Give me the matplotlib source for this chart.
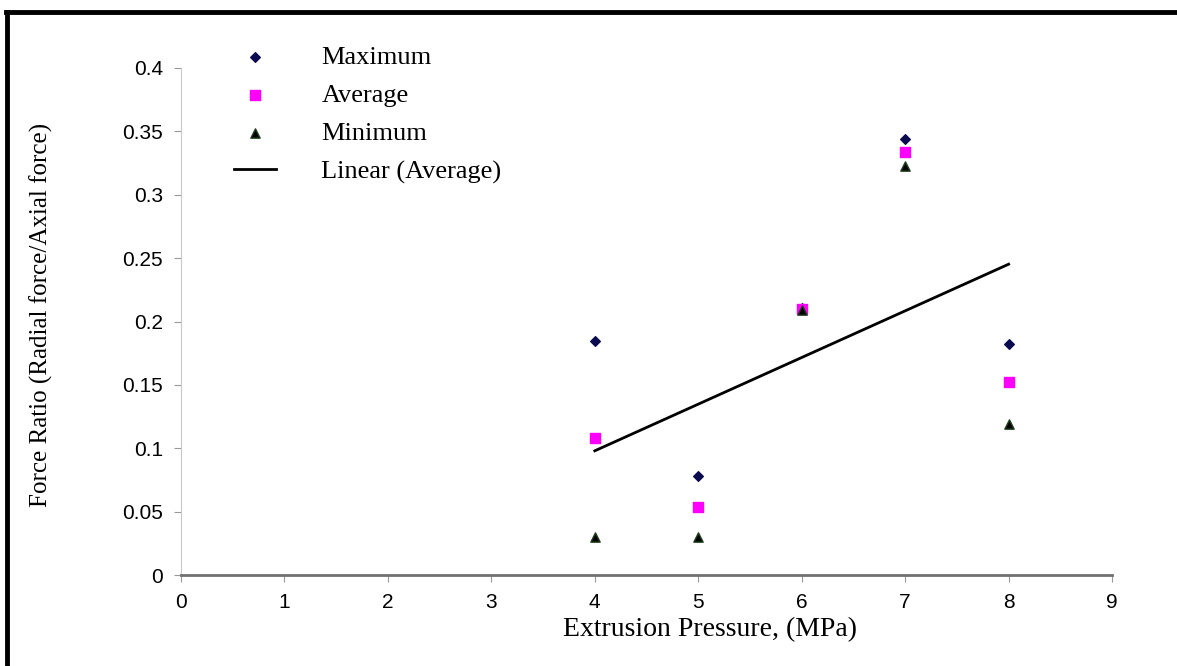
import numpy as np
import matplotlib
matplotlib.use("Agg")
import matplotlib.pyplot as plt
from matplotlib.lines import Line2D
from matplotlib.ticker import FuncFormatter

# extrusion pressure (MPa) and force ratios at each pressure
pressure = [4, 5, 6, 7, 8]
ratio_max = [0.185, 0.078, 0.211, 0.344, 0.182]
ratio_avg = [0.108, 0.054, 0.210, 0.334, 0.152]
ratio_min = [0.030, 0.030, 0.209, 0.323, 0.119]

x_ticks = [0, 1, 2, 3, 4, 5, 6, 7, 8, 9]
y_ticks = [0, 0.05, 0.1, 0.15, 0.2, 0.25, 0.3, 0.35, 0.4]

serif = "Liberation Serif"
sans = "Liberation Sans"

fig = plt.figure(figsize=(11.77, 6.66), dpi=100)
ax = fig.add_axes([0.1538, 0.1366, 0.7910, 0.7613])

ax.scatter(pressure, ratio_max, marker="D", s=24, color="#0a0a50",
           label="Maximum", zorder=3)
ax.scatter(pressure, ratio_avg, marker="s", s=55, color="#ff00ff",
           label="Average", zorder=3)
ax.scatter(pressure, ratio_min, marker="^", s=45, color="black",
           edgecolor="#1f3f1f", label="Minimum", zorder=4)

# linear trend through the averages
coef = np.polyfit(pressure, ratio_avg, 1)
xs = np.array([pressure[0], pressure[-1]])
ax.plot(xs, np.polyval(coef, xs), color="black", lw=2,
        label="Linear (Average)", zorder=2)

ax.set_xlim(0, 9)
ax.set_ylim(0, 0.4)
ax.set_xticks(x_ticks)
ax.set_yticks(y_ticks)
ax.yaxis.set_major_formatter(FuncFormatter(lambda v, p: "%g" % v))
for lab in ax.get_xticklabels() + ax.get_yticklabels():
    lab.set_fontfamily(sans)
    lab.set_fontsize(15)
ax.tick_params(axis="both", direction="out", length=5, color="#999999",
               pad=8)

for s in ["top", "right"]:
    ax.spines[s].set_visible(False)
ax.spines["left"].set_color("#c8c8c8")
ax.spines["bottom"].set_color("#707070")
ax.spines["bottom"].set_linewidth(2)

ax.set_xlabel("Extrusion Pressure, (MPa)", fontfamily=serif, fontsize=20)
ax.xaxis.set_label_coords(0.568, -0.083)
ax.set_ylabel("Force Ratio (Radial force/Axial force)", fontfamily=serif,
              fontsize=18)
ax.yaxis.set_label_coords(-0.138, 0.513)

handles, labels = ax.get_legend_handles_labels()
fig.legend(handles, labels, loc="upper left",
           bbox_to_anchor=(0.19, 0.947), frameon=False,
           prop={"family": serif, "size": 19}, handlelength=1.6,
           handletextpad=1.7, labelspacing=0.55, borderaxespad=0)

# black frame along the top and left edges
fig.add_artist(Line2D([0.005, 1.0], [0.982, 0.982], color="black", lw=3.5,
                      transform=fig.transFigure))
fig.add_artist(Line2D([0.006, 0.006], [0.0, 0.982], color="black", lw=3.5,
                      transform=fig.transFigure))

fig.savefig("out.png", dpi=100)
